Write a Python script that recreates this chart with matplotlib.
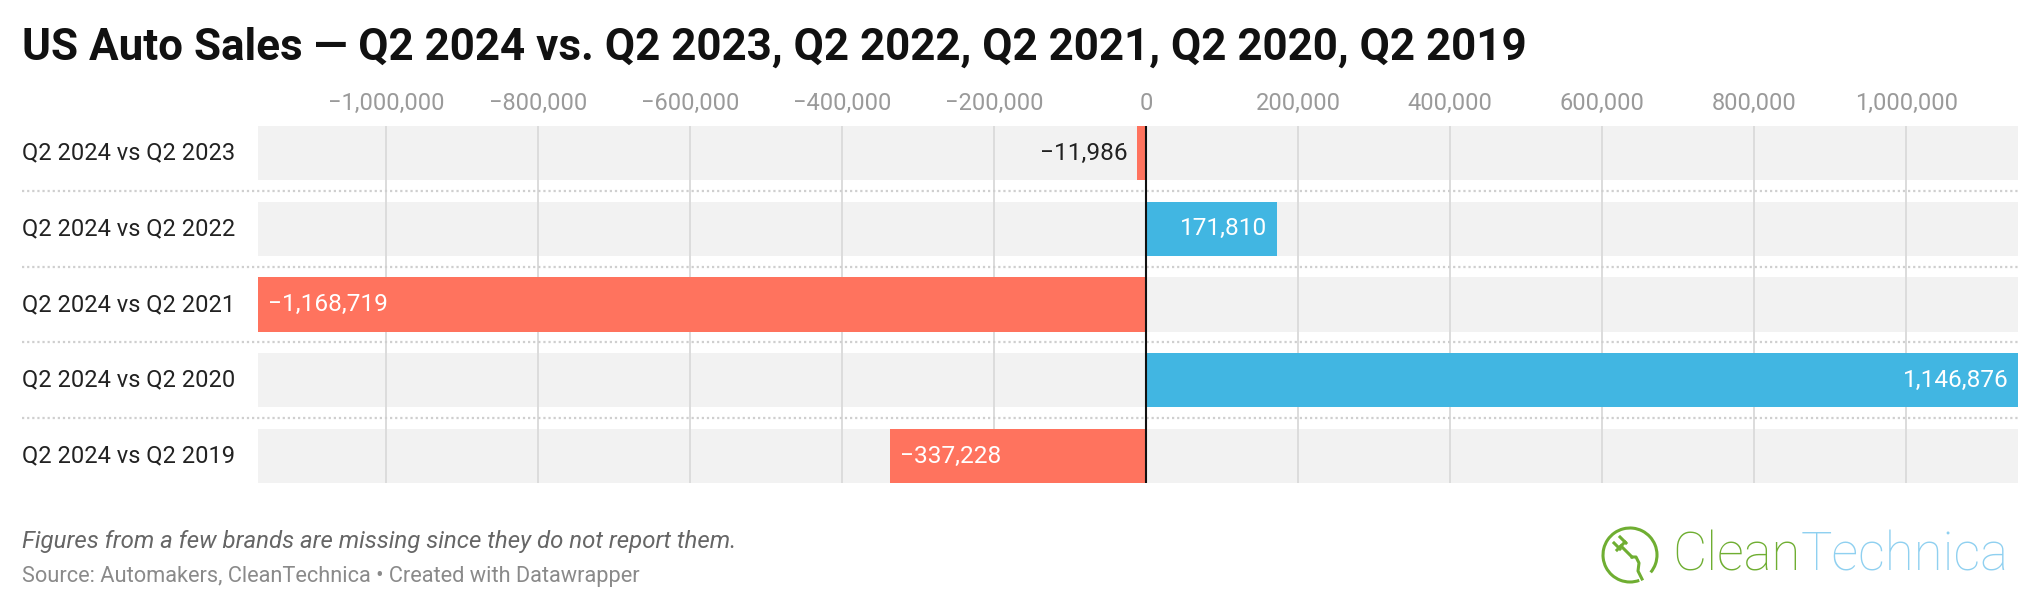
import matplotlib
matplotlib.use("Agg")
import matplotlib.pyplot as plt
from matplotlib.patches import Arc
from matplotlib.lines import Line2D
from matplotlib.transforms import blended_transform_factory, IdentityTransform

plt.rcParams["font.family"] = ["Roboto", "DejaVu Sans"]

# data
categories = ["Q2 2024 vs Q2 2023", "Q2 2024 vs Q2 2022", "Q2 2024 vs Q2 2021",
              "Q2 2024 vs Q2 2020", "Q2 2024 vs Q2 2019"]
differences = [-11986, 171810, -1168719, 1146876, -337228]
tick_values = [-1000000, -800000, -600000, -400000, -200000, 0,
               200000, 400000, 600000, 800000, 1000000]

title = "US Auto Sales \u2014 Q2 2024 vs. Q2 2023, Q2 2022, Q2 2021, Q2 2020, Q2 2019"
note = "Figures from a few brands are missing since they do not report them."
source = "Source: Automakers, CleanTechnica \u2022 Created with Datawrapper"

NEG = "#ff735e"
POS = "#41b6e2"
W, H = 2040, 608


def fmt(v):
    return f"{v:,}".replace("-", "\u2212")


fig = plt.figure(figsize=(W / 100, H / 100), dpi=100)
fig.patch.set_facecolor("white")

# axes box in pixels: x 258..2018, y 126..483 (from top)
ax = fig.add_axes([258 / W, 1 - 483 / H, (2018 - 258) / W, (483 - 126) / H])
bar_h = 0.713
ys = list(range(len(categories)))
xmin, xmax = min(differences), max(differences)
ax.set_xlim(xmin, xmax)
ax.set_ylim(len(categories) - 1 + bar_h / 2, -bar_h / 2)

# grey row backgrounds
ax.barh(ys, [xmax - xmin] * len(ys), left=xmin, height=bar_h, color="#f2f2f2", zorder=0)

# vertical gridlines
for t in tick_values:
    if t != 0:
        ax.axvline(t, color="#dcdcdc", lw=1.4, zorder=1)

colors = [NEG if v < 0 else POS for v in differences]
ax.barh(ys, differences, height=bar_h, color=colors, zorder=3)
ax.axvline(0, color="#111111", lw=1.5, zorder=4)

# value labels: inside the bar end if it fits, else outside
for y, v in zip(ys, differences):
    inside = abs(v) > 100000
    sign = 1 if v < 0 else -1
    if not inside:
        sign = -sign
    ax.annotate(fmt(v), (v, y), xytext=(7 * sign, 0), textcoords="offset points",
                ha="left" if sign > 0 else "right", va="center",
                color="white" if inside else "#222222", fontsize=17.6, zorder=5)

# category labels + dotted separators (reach out to the left margin)
trans = blended_transform_factory(fig.transFigure, ax.transData)
for y, c in zip(ys, categories):
    ax.text(22 / W, y, c, transform=trans, ha="left", va="center",
            fontsize=17, color="#222222", clip_on=False)
for y in ys[:-1]:
    ax.add_line(Line2D([22 / W, 2018 / W], [y + 0.5, y + 0.5], transform=trans,
                       color="#cfcfcf", lw=1.6, linestyle=(0, (1, 1.3)),
                       clip_on=False, zorder=1))

ax.xaxis.tick_top()
ax.set_xticks(tick_values)
ax.set_xticklabels([fmt(t) for t in tick_values])
ax.tick_params(axis="x", length=0, pad=8, labelsize=17, labelcolor="#9a9a9a")
ax.set_yticks([])
for s in ax.spines.values():
    s.set_visible(False)

# title and footer
fig.text(22 / W, 1 - 60 / H, title, fontsize=31.7, fontweight="bold",
         color="#111111", va="baseline", ha="left")
fig.text(22 / W, 1 - 548 / H, note, fontsize=17.3, style="italic",
         color="#666666", va="baseline", ha="left")
fig.text(22 / W, 1 - 582 / H, source, fontsize=15.7, color="#8a8a8a",
         va="baseline", ha="left")

# CleanTechnica logo
green = "#6fae32"
blue = "#8fd0f0"
px = IdentityTransform()
cx, cy = 1630, H - 555
fig.add_artist(Arc((cx, cy), 54, 54, theta1=-40, theta2=290, transform=px,
                   color=green, lw=2.2))
plug = [
    [(cx - 13, cy + 5), (cx - 5, cy + 13)],
    [(cx - 16, cy + 12), (cx - 10, cy + 6)],
    [(cx - 10, cy + 18), (cx - 4, cy + 12)],
    [(cx - 9, cy + 9), (cx + 2, cy - 2)],
    [(cx + 2, cy - 2), (cx + 6, cy - 2), (cx + 9, cy - 8), (cx + 8, cy - 16), (cx + 12, cy - 24)],
]
for seg in plug:
    xs_, ys_ = zip(*seg)
    fig.add_artist(Line2D(xs_, ys_, transform=px, color=green, lw=2.2))
t1 = fig.text(1672 / W, 1 - 556 / H, "Clean", fontsize=38, fontweight="light",
              family="Roboto", color=green, va="center", ha="left")
fig.canvas.draw()
bb = t1.get_window_extent()
fig.text(bb.x1 / W, 1 - 556 / H, "Technica", fontsize=38, fontweight="light",
         family="Roboto", color=blue, va="center", ha="left")

fig.savefig("out.png", dpi=100)
